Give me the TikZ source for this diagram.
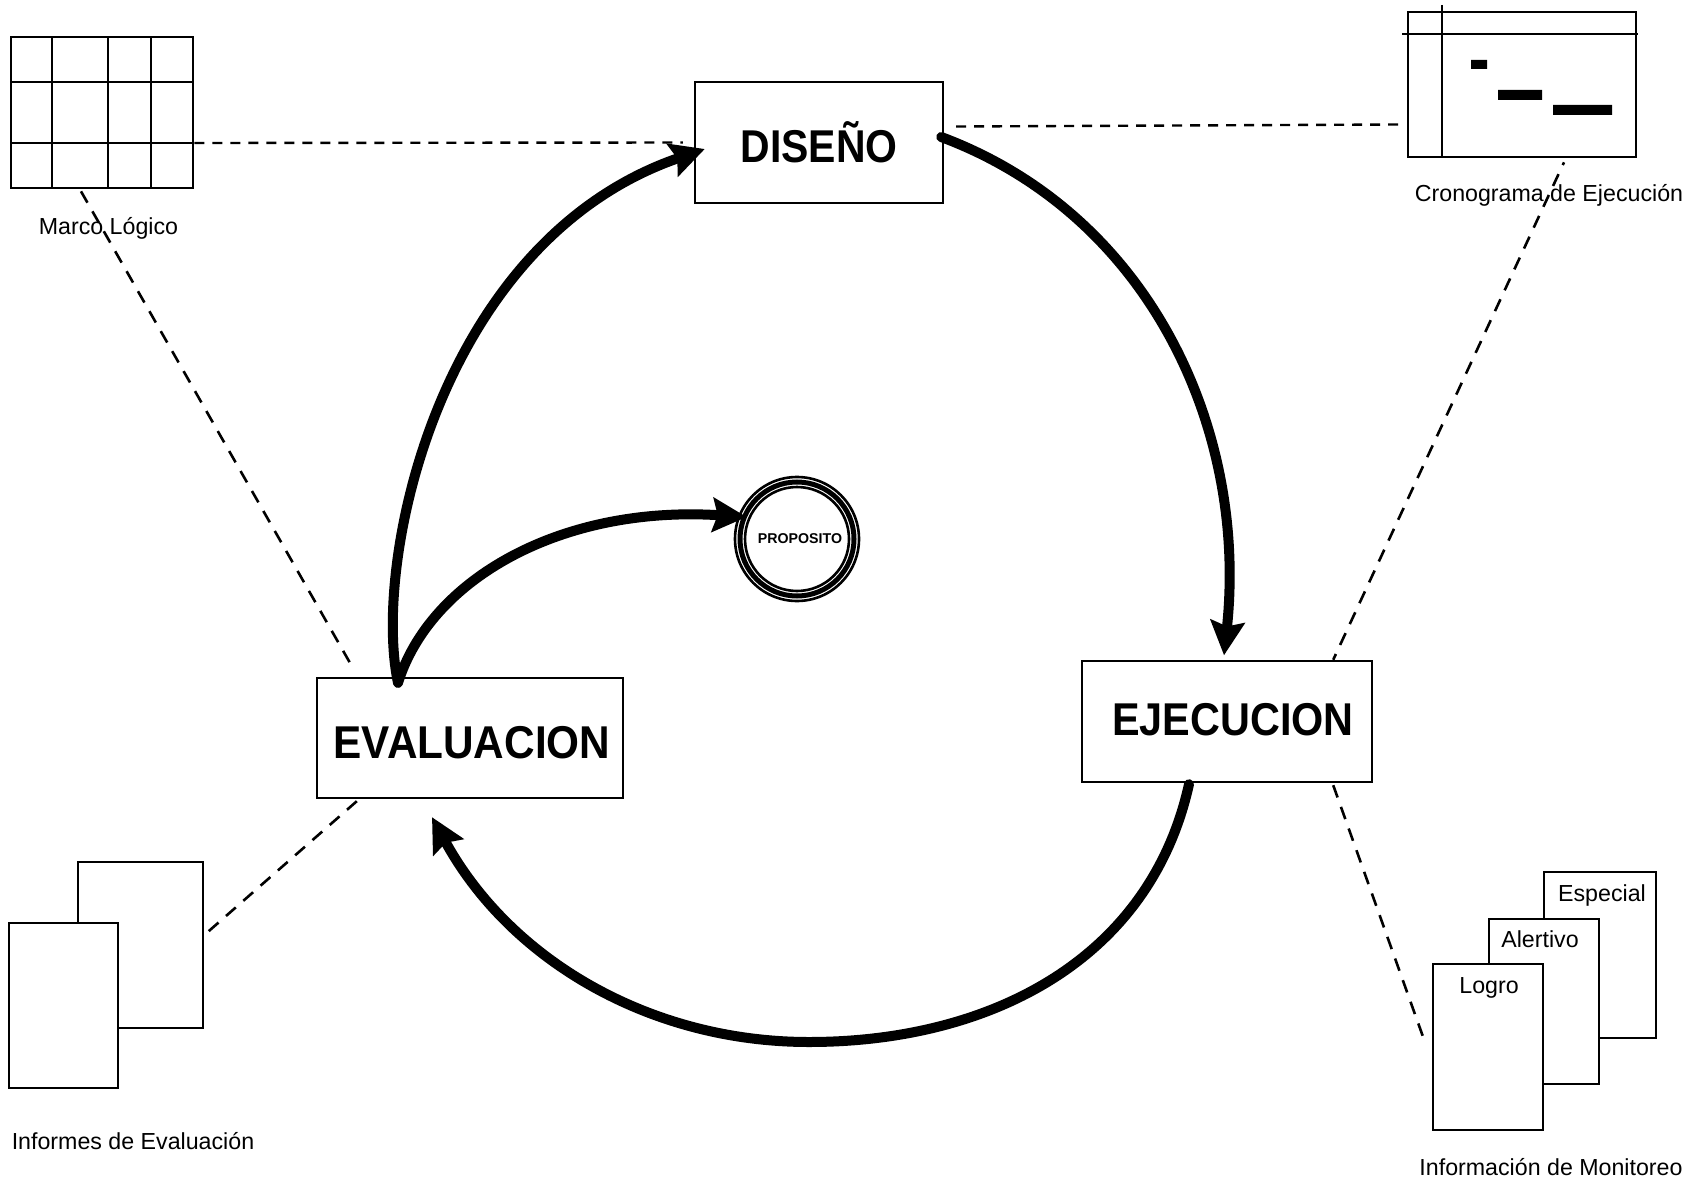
\documentclass[tikz,border=0pt]{standalone}
\usepackage{fontspec}
\setmainfont{Liberation Sans}
\usetikzlibrary{arrows.meta,calc}
\tikzset{
  stagebox/.style={draw=black,line width=2.4pt,fill=white,inner sep=0pt},
  stagetxt/.style={font=\bfseries\fontsize{46}{50}\selectfont,inner sep=0pt},
  sheet/.style={draw=black,line width=2.4pt,fill=white,inner sep=0pt},
  iconbox/.style={draw=black,line width=2.7pt,fill=white,inner sep=0pt},
  flow/.style={line width=10pt,line cap=round,black,-{Stealth[length=34pt,width=34pt,inset=5pt]}},
  link/.style={line width=2.6pt,black,dash pattern=on 13pt off 10pt},
  hlink/.style={line width=2.4pt,black,dash pattern=on 10pt off 8pt},
  caption/.style={font=\fontsize{23.2}{27}\selectfont,inner sep=0pt},
  ringline/.style={draw=black,circle,fill=none,inner sep=0pt}
}
\begin{document}
\begin{tikzpicture}[x=1pt,y=-1pt]
\useasboundingbox (0,0) rectangle (1702,1182);
\fill[white] (0,0) rectangle (1702,1182);

% Marco Logico grid
\node[iconbox,minimum width=182pt,minimum height=151pt] (marco) at (102,112.5) {};
\draw[line width=2.7pt] (52,37) -- (52,188) (108,37) -- (108,188) (151,37) -- (151,188)
  (11,82) -- (194,82) (11,143) -- (193,143);
\node[caption] (marcotxt) at (108.5,228) {Marco Lógico};

% Cronograma
\node[iconbox,minimum width=228pt,minimum height=145pt] (crono) at (1522,84.5) {};
\draw[line width=2.7pt] (1442,5) -- (1442,157) (1402,34) -- (1638,34);
\fill (1471,60) rectangle (1487,69) (1498,90) rectangle (1542,100) (1553,105) rectangle (1612,115);
\node[caption] (cronotxt) at (1549,195) {Cronograma de Ejecución};

% Informes
\node[sheet,minimum width=125pt,minimum height=166pt] (inf2) at (140.5,945) {};
\node[sheet,minimum width=109pt,minimum height=165pt] (inf1) at (63.5,1005.5) {};
\node[caption] (inftxt) at (133,1141) {Informes de Evaluación};

% Monitoreo
\node[sheet,minimum width=112pt,minimum height=166pt] (esp) at (1600,955) {};
\node[sheet,minimum width=110pt,minimum height=165pt] (ale) at (1544,1001.5) {};
\node[sheet,minimum width=110pt,minimum height=166pt] (log) at (1488,1047) {};
\node[caption] (esptxt) at (1602,895) {Especial};
\node[caption] (aletxt) at (1540,939) {Alertivo};
\node[caption] (logtxt) at (1489,988) {Logro};
\node[caption] (montxt) at (1551,1167) {Información de Monitoreo};

% Stages
\node[stagebox,minimum width=248pt,minimum height=121pt] (diseno) at (819,142.5) {};
\node[stagetxt] (disenotxt) at (819,142) {\scalebox{0.89}[1]{DISEÑO}};
\node[stagebox,minimum width=306pt,minimum height=120pt] (evalua) at (470,738) {};
\node[stagetxt] (evaluatxt) at (472,743) {\scalebox{0.92}[1]{EVALUACION}};
\node[stagebox,minimum width=290pt,minimum height=121pt] (ejecu) at (1227,721.5) {};
\node[stagetxt] (ejecutxt) at (1233,720) {\scalebox{0.9}[1]{EJECUCION}};

% Proposito
\node[ringline,line width=2.6pt,minimum size=124pt] (prop) at (797,539) {};
\node[ringline,line width=5pt,minimum size=114pt] (propb) at (797,539) {};
\node[ringline,line width=2.6pt,minimum size=104pt] (propc) at (797,539) {};
\node[font=\bfseries\fontsize{14.2}{16}\selectfont,inner sep=0pt] (proptxt) at (800,539) {PROPOSITO};

% Dashed links
\draw[hlink] (marco.east |- 193,143) -- ($(diseno.west)+(-11,0)$);
\draw[hlink] ($(diseno.east)+(12,-16)$) -- ($(crono.west)+(-8,40)$);
\draw[link] ($(marco.south)+(-21,2)$) -- ($(evalua.north west)+(37,-9)$);
\draw[link,dash phase=10pt] ($(crono.south)+(42,4)$) -- ($(ejecu.north east)+(-40,0)$);
\draw[link] ($(evalua.south west)+(41,2)$) -- ($(inf2.east)+(-1,-9)$);
\draw[link] ($(ejecu.south east)+(-40,2)$) -- ($(log.west)+(-8,-8)$);

% Thick flows
\draw[flow] ($(diseno.east)+(-3,-5.5)$) .. controls (1150,215) and (1248,430) .. ($(ejecu.north)+(-3,-4.5)$);
\draw[flow] ($(ejecu.south)+(-38,1)$) .. controls (1150,960) and (990,1042) .. (809,1042)
   .. controls (650,1042) and (510,960) .. ($(evalua.south)+(-38,18)$);
\draw[flow] ($(evalua.north)+(-72,6)$) .. controls (372,560) and (440,240) .. ($(diseno.west)+(11,6.5)$);
\draw[flow] ($(evalua.north)+(-72,6)$) .. controls (430,580) and (560,505) .. ($(prop.west)+(13,-22)$);
\end{tikzpicture}
\end{document}
